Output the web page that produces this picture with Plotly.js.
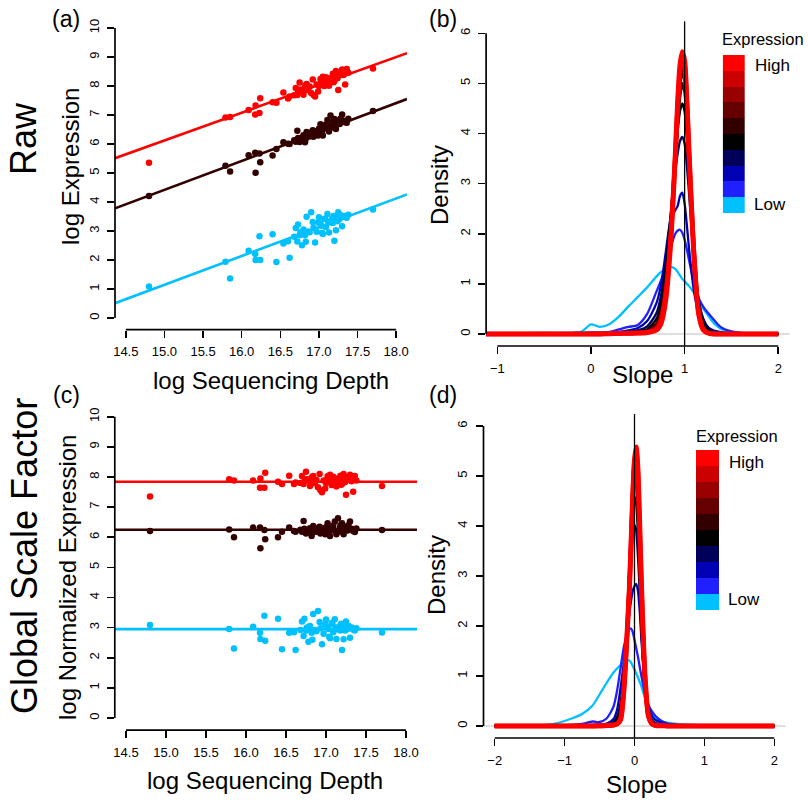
<!DOCTYPE html>
<html><head><meta charset="utf-8">
<script src="https://cdn.plot.ly/plotly-3.0.1.min.js"></script>
<style>html,body{margin:0;padding:0;background:#fff}#chart{width:808px;height:804px}</style>
</head><body><div id="chart"></div>
<script>
// ---------- data ----------
const depth = [14.80,15.79,15.85,16.09,16.175,16.18,16.23,16.24,16.40,16.45,
  16.54,16.60,16.62,16.68,16.70,16.72,16.73,16.75,16.76,16.78,
  16.80,16.82,16.83,16.84,16.86,16.88,16.90,16.92,16.93,16.95,
  16.97,16.99,17.00,17.02,17.03,17.04,17.05,17.07,17.08,17.09,
  17.11,17.12,17.13,17.15,17.17,17.18,17.19,17.20,17.22,17.23,
  17.24,17.25,17.27,17.28,17.30,17.32,17.34,17.36,17.38,17.70];

const rawHigh = [5.35,6.91,6.93,7.17,7.02,7.33,7.07,7.58,7.44,7.42,
  7.78,7.57,7.64,7.68,7.93,7.69,7.79,8.12,7.88,7.86,
  7.70,8.00,7.86,8.07,7.85,7.98,7.76,8.22,7.69,7.64,
  8.05,7.81,8.00,8.24,8.18,8.10,8.32,8.00,8.20,8.30,
  8.12,8.27,8.01,8.20,8.27,8.42,8.13,8.17,8.52,8.38,
  8.27,7.86,8.45,8.49,8.57,8.38,8.05,8.59,8.46,8.60];
const rawMid = [4.21,5.25,5.05,5.61,5.70,5.01,5.67,5.37,5.60,5.83,
  6.06,6.01,6.00,6.13,6.08,6.46,6.21,6.07,6.16,6.22,
  6.30,6.06,6.18,6.41,6.28,6.26,6.40,6.47,6.25,6.44,
  6.37,6.29,6.53,6.68,6.45,6.39,6.29,6.57,6.54,6.67,
  6.83,6.52,6.43,6.98,6.66,6.78,6.57,6.86,6.52,6.75,
  6.69,6.80,6.69,6.88,7.02,6.80,6.75,6.73,6.87,7.14];
const rawLow = [1.09,1.94,1.36,2.32,2.21,2.00,2.82,2.00,2.89,1.93,
  2.57,2.65,2.08,2.80,3.10,2.64,3.22,2.85,2.96,2.51,
  3.05,2.85,2.63,3.49,2.98,2.96,3.65,3.31,3.11,2.60,
  2.97,3.29,3.47,3.25,3.18,2.94,2.90,3.42,3.41,3.14,
  3.59,3.32,2.95,3.29,3.42,3.28,3.52,2.66,3.03,3.43,
  3.34,3.65,3.42,3.54,3.16,3.52,3.48,3.46,3.56,3.74];

const normHigh = [7.35,7.92,7.88,7.88,7.64,7.95,7.64,8.14,7.84,7.77,
  8.04,7.77,7.82,7.80,8.03,7.77,7.86,8.17,7.92,7.88,
  7.70,7.98,7.83,8.03,7.79,7.90,7.66,8.10,7.56,7.49,
  7.88,7.62,7.80,8.02,7.95,7.86,8.07,7.73,7.92,8.01,
  7.81,7.95,7.68,7.85,7.90,8.04,7.74,7.77,8.10,7.95,
  7.83,7.41,7.98,8.01,8.07,7.86,7.51,8.03,7.88,7.70];
const normMid = [6.21,6.26,6.00,6.32,6.32,5.63,6.24,5.93,6.00,6.18,
  6.32,6.21,6.18,6.25,6.18,6.54,6.28,6.12,6.20,6.24,
  6.30,6.04,6.15,6.37,6.22,6.18,6.30,6.35,6.12,6.29,
  6.20,6.10,6.33,6.46,6.22,6.15,6.04,6.30,6.26,6.38,
  6.52,6.20,6.10,6.63,6.29,6.40,6.18,6.46,6.10,6.32,
  6.25,6.35,6.22,6.40,6.52,6.28,6.21,6.17,6.29,6.24];
const normLow = [3.09,2.95,2.31,3.03,2.83,2.62,3.39,2.56,3.29,2.28,
  2.83,2.85,2.26,2.92,3.20,2.72,3.29,2.90,3.00,2.53,
  3.05,2.83,2.60,3.45,2.92,2.88,3.55,3.19,2.98,2.45,
  2.80,3.10,3.27,3.03,2.95,2.70,2.65,3.15,3.13,2.85,
  3.28,3.00,2.62,2.94,3.05,2.90,3.13,2.26,2.61,3.00,
  2.90,3.20,2.95,3.06,2.66,3.00,2.94,2.90,2.98,2.84];

const fitDepth = [14.36, 18.14];
const fitRawHigh = [5.51, 9.13];
const fitRawMid = [3.78, 7.55];
const fitRawLow = [0.51, 4.26];
const fitNormHigh = [7.84, 7.84];
const fitNormMid = [6.25, 6.25];
const fitNormLow = [2.95, 2.95];

const slopeRaw = [-1.2,-0.8,-0.5,-0.3,-0.1,0,0.1,0.2,0.3,0.4,0.5,0.6,0.7,0.75,0.8,0.85,0.9,0.925,0.95,0.975,1.0,1.025,1.05,1.1,1.15,1.2,1.25,1.3,1.35,1.4,1.5,1.6,1.8,2.0];
const densRaw1 = [0,0.01,0.02,0.02,0.05,0.19,0.14,0.2,0.35,0.55,0.74,0.93,1.15,1.24,1.3,1.34,1.3,1.24,1.17,1.1,1.05,1.0,0.95,0.82,0.66,0.5,0.37,0.24,0.15,0.09,0.04,0.02,0.005,0];
const densRaw2 = [0,0,0.005,0.01,0.02,0.03,0.03,0.04,0.09,0.14,0.18,0.4,0.85,1.08,1.38,1.72,2.0,2.06,2.08,2.02,1.88,1.68,1.45,1.02,0.72,0.54,0.42,0.31,0.2,0.12,0.05,0.02,0.005,0];
const densRaw3 = [0,0,0,0.005,0.01,0.01,0.015,0.02,0.04,0.07,0.12,0.26,0.62,1.0,1.65,2.28,2.47,2.55,2.75,2.82,2.6,2.15,1.65,0.85,0.42,0.22,0.13,0.08,0.05,0.03,0.01,0.005,0,0];
const densRaw4 = [0,0,0,0,0.005,0.01,0.01,0.015,0.02,0.04,0.07,0.15,0.42,0.78,1.45,2.35,3.25,3.6,3.85,3.93,3.8,3.35,2.75,1.5,0.68,0.3,0.13,0.06,0.03,0.02,0.01,0.005,0,0];
const densRaw5 = [0,0,0,0,0,0.005,0.005,0.01,0.01,0.02,0.04,0.09,0.3,0.6,1.25,2.3,3.5,4.05,4.45,4.6,4.45,3.9,3.15,1.6,0.6,0.22,0.08,0.03,0.015,0.01,0.005,0,0,0];
const densRaw6 = [0,0,0,0,0,0,0.005,0.005,0.01,0.02,0.03,0.06,0.2,0.45,1.0,2.1,3.5,4.2,4.75,5.0,4.85,4.2,3.3,1.55,0.5,0.13,0.04,0.015,0.01,0.005,0,0,0,0];
const densRaw7 = [0,0,0,0,0,0,0,0.005,0.01,0.015,0.025,0.05,0.16,0.38,0.9,2.0,3.55,4.35,4.98,5.25,5.1,4.4,3.4,1.6,0.48,0.11,0.03,0.01,0.005,0,0,0,0,0];
const densRaw8 = [0,0,0,0,0,0,0,0.005,0.01,0.015,0.02,0.04,0.13,0.33,0.85,1.9,3.55,4.45,5.15,5.45,5.3,4.55,3.45,1.6,0.45,0.1,0.025,0.01,0,0,0,0,0,0];
const densRaw9 = [0,0,0,0,0,0,0,0.005,0.01,0.015,0.02,0.03,0.11,0.3,0.85,1.85,3.55,4.55,5.25,5.58,5.4,4.6,3.5,1.6,0.42,0.09,0.02,0.005,0,0,0,0,0,0];
const densRaw10 = [0,0,0,0,0,0,0,0.005,0.01,0.015,0.02,0.03,0.08,0.22,0.7,1.8,3.55,4.6,5.35,5.63,5.45,4.6,3.5,1.55,0.4,0.08,0.02,0,0,0,0,0,0,0];

const slopeNorm = [-2.0,-1.6,-1.3,-1.1,-0.9,-0.75,-0.6,-0.5,-0.4,-0.3,-0.25,-0.2,-0.15,-0.1,-0.075,-0.05,-0.025,0,0.025,0.05,0.075,0.1,0.15,0.2,0.25,0.3,0.4,0.5,0.7,1.0,1.3,1.6,2.0];
const densNorm1 = [0,0.005,0.015,0.06,0.15,0.24,0.41,0.63,0.86,1.07,1.15,1.22,1.28,1.32,1.31,1.27,1.2,1.13,1.05,0.97,0.88,0.79,0.56,0.37,0.25,0.17,0.09,0.06,0.03,0.01,0.005,0,0];
const densNorm2 = [0,0,0.005,0.01,0.02,0.04,0.09,0.08,0.15,0.39,0.7,1.15,1.6,1.85,1.93,1.95,1.88,1.72,1.55,1.38,1.18,0.99,0.65,0.42,0.29,0.2,0.09,0.04,0.015,0.005,0,0,0];
const densNorm3 = [0,0,0,0.005,0.01,0.015,0.02,0.03,0.05,0.14,0.32,0.75,1.3,1.9,2.25,2.5,2.7,2.8,2.84,2.7,2.3,1.7,0.85,0.39,0.2,0.12,0.06,0.03,0.01,0.005,0,0,0];
const densNorm4 = [0,0,0,0,0.005,0.005,0.01,0.015,0.03,0.08,0.18,0.45,1.1,2.2,2.85,3.4,3.85,4.02,3.9,3.4,2.7,1.9,0.8,0.3,0.12,0.06,0.02,0.01,0.005,0,0,0,0];
const densNorm5 = [0,0,0,0,0,0,0.005,0.01,0.02,0.05,0.12,0.35,1.0,2.2,3.0,3.75,4.35,4.58,4.45,3.9,3.0,2.0,0.7,0.2,0.07,0.03,0.01,0.005,0,0,0,0,0];
const densNorm6 = [0,0,0,0,0,0,0,0.005,0.01,0.03,0.07,0.25,0.9,2.1,2.85,3.7,4.5,4.92,4.85,4.2,3.3,2.3,0.85,0.22,0.06,0.02,0.01,0,0,0,0,0,0];
const densNorm7 = [0,0,0,0,0,0,0,0,0.005,0.03,0.06,0.2,0.85,2.05,2.8,3.7,4.6,5.15,5.15,4.55,3.55,2.5,0.9,0.2,0.05,0.02,0.005,0,0,0,0,0,0];
const densNorm8 = [0,0,0,0,0,0,0,0,0.005,0.02,0.05,0.16,0.8,2.0,2.75,3.65,4.6,5.25,5.38,4.8,3.8,2.65,0.95,0.2,0.05,0.015,0.005,0,0,0,0,0,0];
const densNorm9 = [0,0,0,0,0,0,0,0,0.005,0.02,0.04,0.14,0.78,2.0,2.7,3.6,4.6,5.3,5.5,5.0,3.9,2.75,0.98,0.2,0.04,0.01,0.005,0,0,0,0,0,0];
const densNorm10 = [0,0,0,0,0,0,0,0.005,0.01,0.02,0.04,0.12,0.75,2.0,2.7,3.6,4.6,5.32,5.58,5.1,4.0,2.8,1.0,0.2,0.04,0.01,0.005,0,0,0,0,0,0];

const depthTicks = [14.5,15.0,15.5,16.0,16.5,17.0,17.5,18.0];
const exprTicks = [0,1,2,3,4,5,6,7,8,9,10];
const slopeTicksRaw = [-1,0,1,2];
const slopeTicksNorm = [-2,-1,0,1,2];
const densTicks = [0,1,2,3,4,5,6];
const legendLevels = [0,1,2,3,4,5,6,7,8,9];

// ---------- styles ----------
const FONT = 'Liberation Sans, Arial, Helvetica, sans-serif';
const W = 808, H = 804;
const X = px => px / W;
const Y = py => 1 - py / H;
const cHigh = '#FF0000', cMid = '#330000', cLow = '#00C0FF';
const curveColors = ['#00C0FF','#2020FF','#0000B4','#00005A','#000000','#330000','#660000','#990000','#CC0000','#FF0000'];
const curveWidths = [2.3,2.3,2.3,2.4,2.5,3,3.5,4,4.5,5];
const densRaw = [densRaw1,densRaw2,densRaw3,densRaw4,densRaw5,densRaw6,densRaw7,densRaw8,densRaw9,densRaw10];
const densNorm = [densNorm1,densNorm2,densNorm3,densNorm4,densNorm5,densNorm6,densNorm7,densNorm8,densNorm9,densNorm10];

// panel boxes in pixels [left,right] and [top,bottom]
const box = {
  a: {x:[115,407], y:[16.4,329.6], xr:[14.36,18.14], yr:[-0.4,10.4]},
  b: {x:[486.1,789.5], y:[21.3,346], xr:[-1.12,2.12], yr:[-0.24,6.24]},
  c: {x:[114.8,417.2], y:[404.65,730.05], xr:[14.36,18.14], yr:[-0.4,10.4]},
  d: {x:[483.5,785.5], y:[414,738], xr:[-2.16,2.16], yr:[-0.24,6.24]},
  lb: {x:[722.7,745], y:[55,213.3]},
  ld: {x:[696,719], y:[450,610]}
};

function xAxis(b, anchor, tickvals, fmt) {
  return {domain:[X(b.x[0]),X(b.x[1])], range:b.xr, anchor:anchor, tickvals:tickvals, tickformat:fmt,
    ticks:'outside', ticklen:7, tickwidth:1.6, tickcolor:'#000', showline:false, showgrid:false, zeroline:false,
    tickfont:{family:FONT,size:13,color:'#000'}, ticklabelstandoff:3, fixedrange:true};
}
function yAxis(b, anchor, tickvals) {
  return {domain:[Y(b.y[1]),Y(b.y[0])], range:b.yr, anchor:anchor, tickvals:tickvals, tickangle:-90,
    ticks:'outside', ticklen:7, tickwidth:1.6, tickcolor:'#000', showline:false, showgrid:false, zeroline:false,
    tickfont:{family:FONT,size:13,color:'#000'}, ticklabelstandoff:3, fixedrange:true};
}
function hidden(dom, range, isX) {
  const d = isX ? [X(dom[0]),X(dom[1])] : [Y(dom[1]),Y(dom[0])];
  return {domain:d, range:range, visible:false, fixedrange:true};
}

const traces = [];
function pts(x, y, col, xa, ya) {
  traces.push({type:'scatter', mode:'markers', x:x, y:y, xaxis:xa, yaxis:ya,
    marker:{color:col, size:6.5, line:{width:0}}, hoverinfo:'skip', showlegend:false});
}
function fit(x, y, col, xa, ya) {
  traces.push({type:'scatter', mode:'lines', x:x, y:y, xaxis:xa, yaxis:ya,
    line:{color:col, width:2.6}, hoverinfo:'skip', showlegend:false});
}
pts(depth, rawHigh, cHigh, 'x', 'y'); fit(fitDepth, fitRawHigh, cHigh, 'x', 'y');
pts(depth, rawMid, cMid, 'x', 'y'); fit(fitDepth, fitRawMid, cMid, 'x', 'y');
pts(depth, rawLow, cLow, 'x', 'y'); fit(fitDepth, fitRawLow, cLow, 'x', 'y');
pts(depth, normHigh, cHigh, 'x3', 'y3'); fit(fitDepth, fitNormHigh, cHigh, 'x3', 'y3');
pts(depth, normMid, cMid, 'x3', 'y3'); fit(fitDepth, fitNormMid, cMid, 'x3', 'y3');
pts(depth, normLow, cLow, 'x3', 'y3'); fit(fitDepth, fitNormLow, cLow, 'x3', 'y3');

for (let k = 0; k < 10; k++) {
  traces.push({type:'scatter', mode:'lines', x:slopeRaw, y:densRaw[k], xaxis:'x2', yaxis:'y2',
    line:{color:curveColors[k], width:curveWidths[k], shape:'spline', smoothing:0.7}, hoverinfo:'skip', showlegend:false});
  traces.push({type:'scatter', mode:'lines', x:slopeNorm, y:densNorm[k], xaxis:'x4', yaxis:'y4',
    line:{color:curveColors[k], width:curveWidths[k], shape:'spline', smoothing:0.7}, hoverinfo:'skip', showlegend:false});
}

const cscale = [];
legendLevels.forEach((v, k) => { cscale.push([k/10, curveColors[k]]); cscale.push([(k+1)/10, curveColors[k]]); });
[['x5','y5'],['x6','y6']].forEach(([xa,ya]) => {
  traces.push({type:'heatmap', z:legendLevels.map(v => [v]), x:[0], y:legendLevels, xaxis:xa, yaxis:ya,
    colorscale:cscale, zmin:-0.5, zmax:9.5, showscale:false, hoverinfo:'skip'});
});

// axis lines (R style: span first to last tick) and reference lines
const axLine = {color:'#000', width:1.7};
const shapes = [
  {type:'line', xref:'x', yref:'paper', x0:14.5, x1:18.0, y0:Y(box.a.y[1]), y1:Y(box.a.y[1]), line:axLine},
  {type:'line', xref:'paper', yref:'y', x0:X(box.a.x[0]), x1:X(box.a.x[0]), y0:0, y1:10, line:axLine},
  {type:'line', xref:'x3', yref:'paper', x0:14.5, x1:18.0, y0:Y(box.c.y[1]), y1:Y(box.c.y[1]), line:axLine},
  {type:'line', xref:'paper', yref:'y3', x0:X(box.c.x[0]), x1:X(box.c.x[0]), y0:0, y1:10, line:axLine},
  {type:'line', xref:'x2', yref:'paper', x0:-1, x1:2, y0:Y(box.b.y[1]), y1:Y(box.b.y[1]), line:axLine},
  {type:'line', xref:'paper', yref:'y2', x0:X(box.b.x[0]), x1:X(box.b.x[0]), y0:0, y1:6, line:axLine},
  {type:'line', xref:'x4', yref:'paper', x0:-2, x1:2, y0:Y(box.d.y[1]), y1:Y(box.d.y[1]), line:axLine},
  {type:'line', xref:'paper', yref:'y4', x0:X(box.d.x[0]), x1:X(box.d.x[0]), y0:0, y1:6, line:axLine},
  {type:'line', xref:'x2 domain', yref:'y2', x0:0, x1:1, y0:0, y1:0, line:{color:'#BEBEBE', width:1}, layer:'below'},
  {type:'line', xref:'x4 domain', yref:'y4', x0:0, x1:1, y0:0, y1:0, line:{color:'#BEBEBE', width:1}, layer:'below'},
  {type:'line', xref:'x2', yref:'y2 domain', x0:1, x1:1, y0:0, y1:1, line:{color:'#000', width:1.3}},
  {type:'line', xref:'x4', yref:'y4 domain', x0:0, x1:0, y0:0, y1:1, line:{color:'#000', width:1.3}}
];

function ann(text, px, py, size, angle) {
  return {text:text, x:X(px), y:Y(py), xref:'paper', yref:'paper', showarrow:false,
    xanchor:'center', yanchor:'middle', textangle:angle||0, font:{family:FONT, size:size, color:'#000'}};
}
const annotations = [
  ann('Raw', 23.5, 138.5, 36, -90),
  ann('Global Scale Factor', 24, 556, 36, -90),
  ann('(a)', 66, 19.5, 23), ann('(b)', 442.5, 19.5, 23),
  ann('(c)', 66, 395, 23), ann('(d)', 442.5, 395, 23),
  ann('log Expression', 70, 167, 24, -90),
  ann('log Sequencing Depth', 271, 380.5, 24),
  ann('log Normalized Expression', 67.5, 577.5, 24, -90),
  ann('log Sequencing Depth', 265, 780.5, 24),
  ann('Density', 440, 185, 24, -90),
  ann('Slope', 642, 374, 24),
  ann('Density', 436, 575, 24, -90),
  ann('Slope', 636.5, 784.5, 24),
  ann('Expression', 762.8, 39.1, 16.5), ann('High', 772.5, 65.5, 17), ann('Low', 770, 204, 17),
  ann('Expression', 736.7, 435.6, 16.5), ann('High', 746.7, 462, 17), ann('Low', 743.8, 599, 17)
];

const layout = {
  width:W, height:H, margin:{l:0,r:0,t:0,b:0}, paper_bgcolor:'#fff', plot_bgcolor:'rgba(0,0,0,0)',
  showlegend:false, font:{family:FONT, color:'#000'},
  xaxis: xAxis(box.a, 'y', depthTicks, '.1f'), yaxis: yAxis(box.a, 'x', exprTicks),
  xaxis2: xAxis(box.b, 'y2', slopeTicksRaw, 'd'), yaxis2: yAxis(box.b, 'x2', densTicks),
  xaxis3: xAxis(box.c, 'y3', depthTicks, '.1f'), yaxis3: yAxis(box.c, 'x3', exprTicks),
  xaxis4: xAxis(box.d, 'y4', slopeTicksNorm, 'd'), yaxis4: yAxis(box.d, 'x4', densTicks),
  xaxis5: Object.assign(hidden(box.lb.x, [-0.5,0.5], true), {anchor:'y5'}),
  yaxis5: Object.assign(hidden(box.lb.y, [-0.5,9.5], false), {anchor:'x5'}),
  xaxis6: Object.assign(hidden(box.ld.x, [-0.5,0.5], true), {anchor:'y6'}),
  yaxis6: Object.assign(hidden(box.ld.y, [-0.5,9.5], false), {anchor:'x6'}),
  shapes:shapes, annotations:annotations
};
Plotly.newPlot('chart', traces, layout, {displayModeBar:false, staticPlot:true});
</script></body></html>
